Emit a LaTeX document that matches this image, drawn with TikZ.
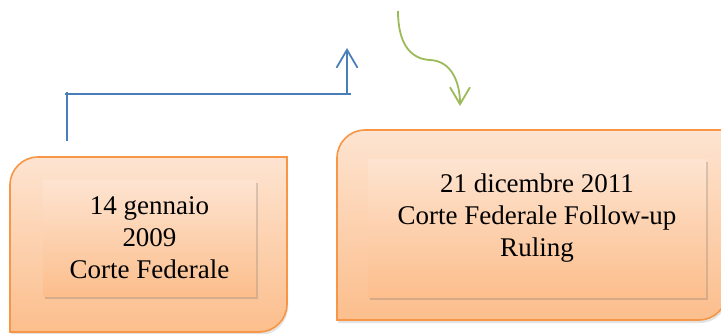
\documentclass[tikz,border=0pt]{standalone}
\usepackage{fontspec}
\setmainfont{Liberation Serif}
\usepackage{xcolor}
\usepackage{tikz}
\usetikzlibrary{arrows.meta, shadows}

\definecolor{accorange}{HTML}{F79646}
\definecolor{accblue}{HTML}{4A7EBB}
\definecolor{accgreen}{HTML}{9BBB59}
\definecolor{peachtop}{HTML}{FDE4D1}
\definecolor{peachbot}{HTML}{FCBE8C}

\begin{document}
\begin{tikzpicture}[
    x=1pt, y=1pt,
    every node/.style={font=\fontsize{27}{32}\selectfont},
    panel/.style={draw=accorange, line width=1.6pt, top color=peachtop, bottom color=peachbot,
        drop shadow={shadow xshift=1pt, shadow yshift=-3pt, opacity=0.18, fill=black!60}},
    card/.style={rectangle, top color=peachtop, bottom color=peachbot, minimum width=#1, align=center,
        drop shadow={shadow xshift=2pt, shadow yshift=-3pt, opacity=0.25, fill=black!60}},
    bluearrow/.style={draw=accblue, line width=1.8pt, -{Straight Barb[length=18pt, width=21pt, line width=1.8pt]}},
    greenarrow/.style={draw=accgreen, line width=1.8pt, -{Straight Barb[length=17pt, width=20pt, line width=1.8pt]}}
]
\useasboundingbox (0,0) rectangle (721,333);
% outer panels, rounded on the diagonal corners
\path[panel] (10,1) -- (10,148) arc[start angle=180, end angle=90, radius=28pt]
    -- (287,176) -- (287,29) arc[start angle=0, end angle=-90, radius=28pt] -- cycle;
\path[panel] (337,13) -- (337,175) arc[start angle=180, end angle=90, radius=28pt]
    -- (727,203) -- (727,41) arc[start angle=0, end angle=-90, radius=28pt] -- cycle;
% inner cards
\node[card=213pt, minimum height=116pt] (jan) at (149.5,95) {14 gennaio\\2009\\Corte Federale};
\node[card=338pt, minimum height=138pt] (dec) at (537,105) {21 dicembre 2011\\Corte Federale Follow-up\\Ruling\\[-6pt]\mbox{}};
% connectors
\coordinate (btail) at (67,192);
\coordinate (bknee) at (67,241);
\coordinate (bleft) at (65,239);
\coordinate (bright) at (351,239);
\coordinate (bfoot) at (347,239);
\coordinate (btip) at (347,285);
\draw[accblue, line width=1.8pt] (btail) -- (bknee);
\draw[accblue, line width=1.8pt] (bleft) -- (bright);
\draw[bluearrow] (bfoot) -- (btip);
\coordinate (gstart) at (398,322);
\coordinate (gmid) at (430,273);
\coordinate (gtip) at (460,227);
\draw[greenarrow] (gstart) .. controls (398,290) and (410,274) .. (gmid)
    .. controls (452,272) and (460,250) .. (gtip);
\end{tikzpicture}
\end{document}
